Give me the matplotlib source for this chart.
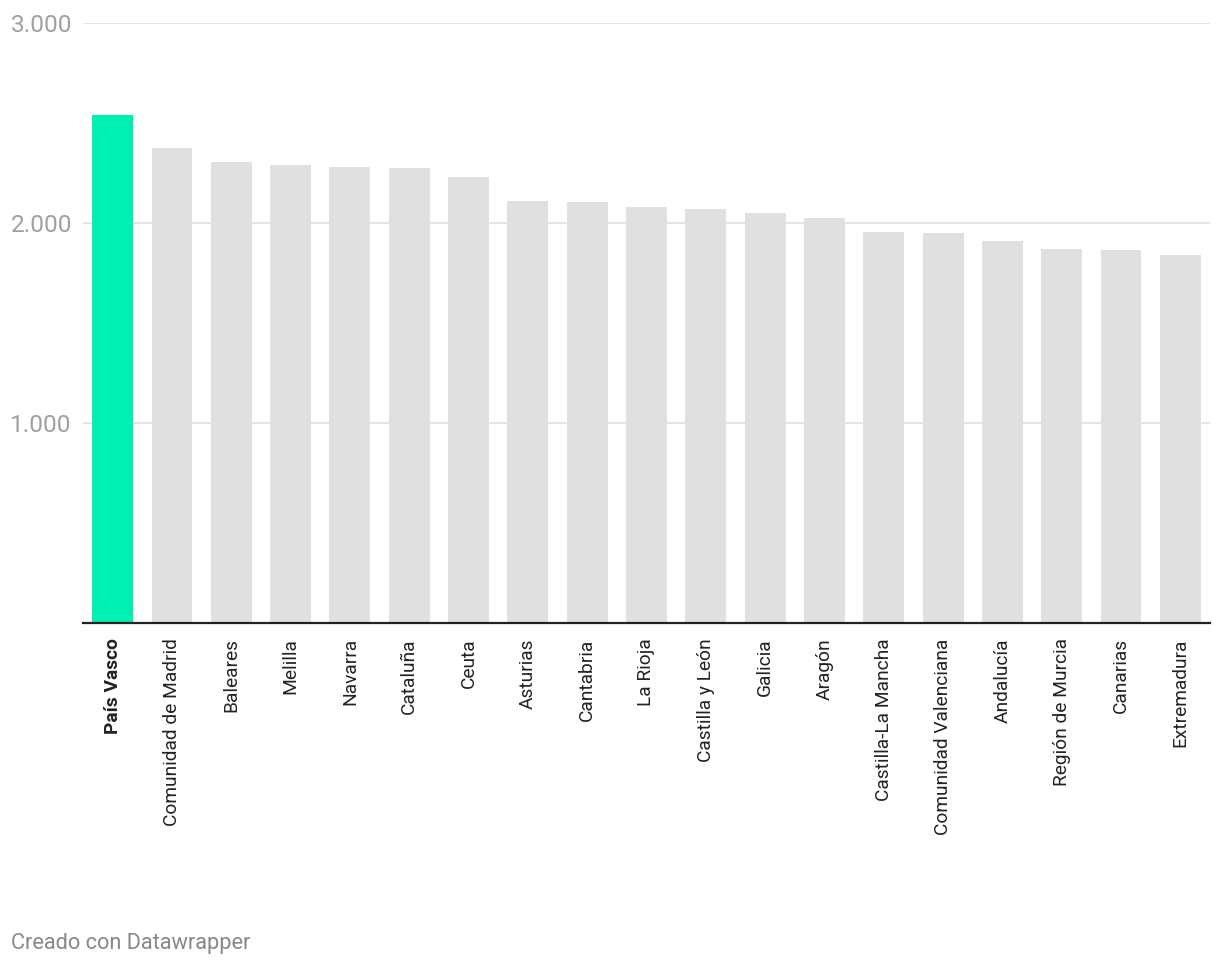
import matplotlib
matplotlib.use("Agg")
import matplotlib.pyplot as plt
from matplotlib.ticker import FixedLocator, FuncFormatter

plt.rcParams['font.family'] = ['Roboto', 'DejaVu Sans']

regiones = ["País Vasco", "Comunidad de Madrid", "Baleares", "Melilla", "Navarra",
            "Cataluña", "Ceuta", "Asturias", "Cantabria", "La Rioja",
            "Castilla y León", "Galicia", "Aragón", "Castilla-La Mancha",
            "Comunidad Valenciana", "Andalucía", "Región de Murcia", "Canarias",
            "Extremadura"]
valores = [2540, 2375, 2305, 2290, 2280, 2275, 2230, 2110, 2105, 2080,
           2070, 2050, 2025, 1955, 1950, 1910, 1870, 1865, 1840]
destacado = "País Vasco"
y_ticks = [1000, 2000, 3000]

W, H = 1220, 968
fig = plt.figure(figsize=(W / 100, H / 100), dpi=100)
ax = fig.add_axes([83 / W, 1 - 623 / H, (1210 - 83) / W, (623 - 23) / H])

colores = ["#00f0b2" if r == destacado else "#e0e0e0" for r in regiones]
x = list(range(len(regiones)))
ax.bar(x, valores, width=0.69, color=colores, zorder=2)

ax.set_xlim(-0.5, len(regiones) - 0.5)
ax.set_ylim(0, 3000)

ax.yaxis.set_major_locator(FixedLocator(y_ticks))
ax.yaxis.set_major_formatter(FuncFormatter(lambda v, p: f"{int(v):,}".replace(",", ".")))
ax.grid(axis="y", color="#e3e3e3", linewidth=1.3, zorder=0)
ax.tick_params(axis="y", length=0, pad=8, labelsize=17.6, labelcolor="#a0a0a0")

ax.set_xticks(x)
ax.set_xticklabels(regiones, rotation=90, fontsize=13.8, color="#222222")
ax.tick_params(axis="x", length=0, pad=11)
for lbl in ax.get_xticklabels():
    if lbl.get_text() == destacado:
        lbl.set_fontweight("bold")

for s in ["top", "right", "left"]:
    ax.spines[s].set_visible(False)
ax.spines["bottom"].set_color("#222222")
ax.spines["bottom"].set_linewidth(1.6)
ax.spines["bottom"].set_zorder(3)

fig.text(11 / W, 1 - 944 / H, "Creado con Datawrapper", fontsize=15.7,
         color="#888888", va="center", ha="left")

fig.savefig("out.png", dpi=100, facecolor="white")
